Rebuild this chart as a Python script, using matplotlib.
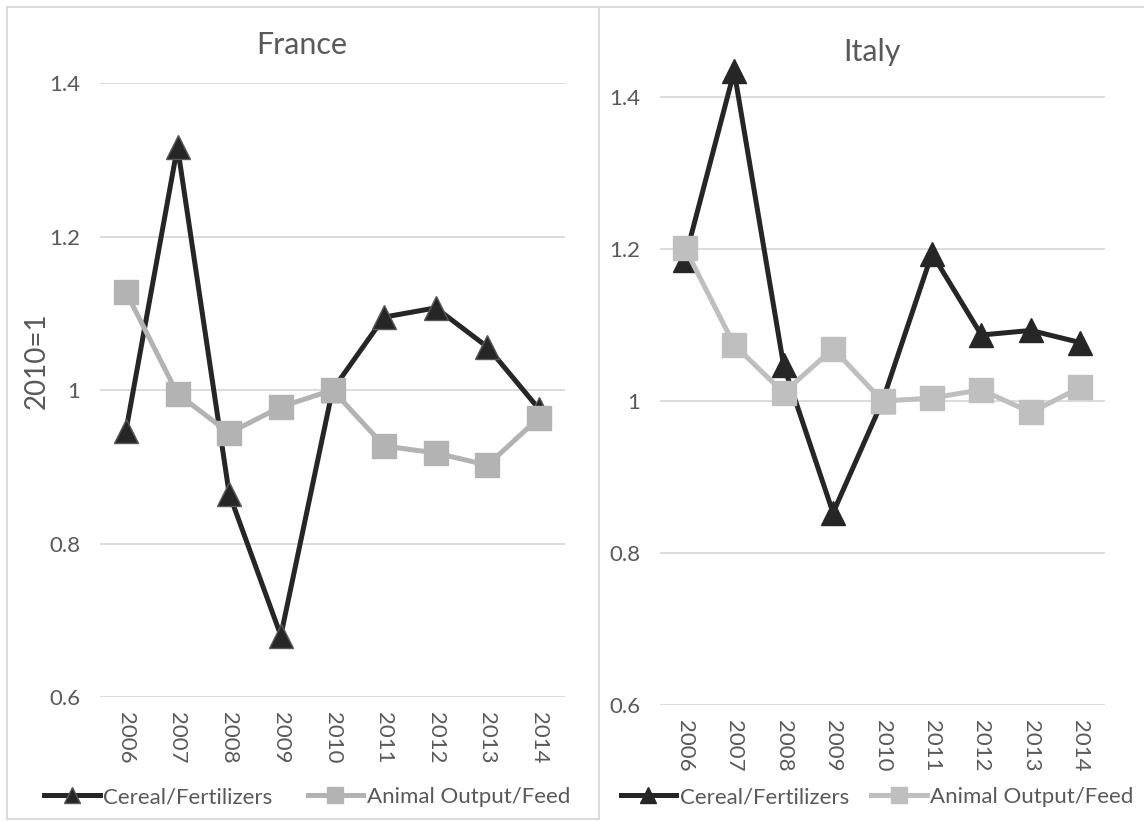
"""
France / Italy: price ratio indices, 2010=1.
"""
import matplotlib
matplotlib.use('Agg')
import matplotlib.pyplot as plt
import numpy as np

years = ['2006', '2007', '2008', '2009', '2010', '2011', '2012', '2013', '2014']

france_cereal = [0.946, 1.317, 0.865, 0.680, 1.000, 1.095, 1.107, 1.056, 0.975]
france_animal = [1.128, 0.995, 0.944, 0.978, 1.000, 0.927, 0.918, 0.902, 0.964]

italy_cereal = [1.186, 1.434, 1.047, 0.853, 1.000, 1.194, 1.087, 1.093, 1.077]
italy_animal = [1.202, 1.074, 1.011, 1.069, 1.000, 1.004, 1.015, 0.985, 1.018]

TXT = '#595959'
GRID = '#d9d9d9'
plt.rcParams['font.family'] = ['Lato', 'DejaVu Sans']

W, H = 1144, 821
fig = plt.figure(figsize=(W / 100, H / 100), dpi=100)


def px_axes(x0, x1, y_top, y_bot):
    return fig.add_axes([x0 / W, 1 - y_bot / H, (x1 - x0) / W, (y_bot - y_top) / H])


def draw_panel(ax, cereal, animal, ymax, gray, tri_edge):
    x = np.arange(len(years))
    for v in [0.6, 0.8, 1.0, 1.2, 1.4]:
        ax.axhline(v, color=GRID, lw=1.3, zorder=0)
    ax.plot(x, cereal, color='#262626', lw=3.6, marker='^', ms=17,
            mfc='#262626', mec=tri_edge, mew=1.0, label='Cereal/Fertilizers',
            clip_on=False, zorder=3)
    ax.plot(x, animal, color=gray, lw=3.6, marker='s', ms=17,
            mfc=gray, mec=gray, label='Animal Output/Feed',
            clip_on=False, zorder=4)
    ax.set_xlim(-0.5, len(years) - 0.5)
    ax.set_ylim(0.6, ymax)
    ax.set_yticks([0.6, 0.8, 1.0, 1.2, 1.4])
    ax.set_yticklabels(['0.6', '0.8', '1', '1.2', '1.4'])
    ax.set_xticks(x)
    ax.set_xticklabels(years, rotation=-90)
    ax.tick_params(length=0, labelsize=16, colors=TXT)
    ax.tick_params(axis='x', pad=11)
    ax.tick_params(axis='y', pad=14)
    for s in ax.spines.values():
        s.set_visible(False)


ax1 = px_axes(100, 565, 83, 697)
draw_panel(ax1, france_cereal, france_animal, 1.4, '#b3b3b3', '#595959')
ax1.set_ylabel('2010=1', fontsize=20, color=TXT)
ax1.yaxis.set_label_coords((50 - 100) / 465, (697 - 361) / 614)

ax2 = px_axes(660, 1105, 44, 705)
draw_panel(ax2, italy_cereal, italy_animal, 1.47, '#bfbfbf', '#262626')

# titles centred on each chart area
fig.text(302 / W, 1 - 45 / H, 'France', fontsize=22, color=TXT, ha='center', va='center')
fig.text(872 / W, 1 - 52 / H, 'Italy', fontsize=22, color=TXT, ha='center', va='center')

for ax, cx, gap in [(ax1, 307, 1.6), (ax2, 877, 1.0)]:
    leg = fig.legend(*ax.get_legend_handles_labels(), loc='center',
                     bbox_to_anchor=(cx / W, 1 - 797 / H), ncol=2, frameon=False,
                     fontsize=16, handlelength=2.5, handletextpad=0.15,
                     columnspacing=gap, markerscale=0.7)
    for t in leg.get_texts():
        t.set_color(TXT)

# chart borders
border = dict(color='#d9d9d9', lw=1.3, transform=fig.transFigure)
fig.add_artist(plt.Line2D([7 / W, 7 / W], [1 - 7 / H, 1 - 819 / H], **border))
fig.add_artist(plt.Line2D([7 / W, 1], [1 - 7 / H, 1 - 7 / H], **border))
fig.add_artist(plt.Line2D([599 / W, 599 / W], [1 - 7 / H, 1 - 819 / H], **border))
fig.add_artist(plt.Line2D([7 / W, 599 / W], [1 - 819 / H, 1 - 819 / H], **border))

fig.savefig('out.png', dpi=100)
